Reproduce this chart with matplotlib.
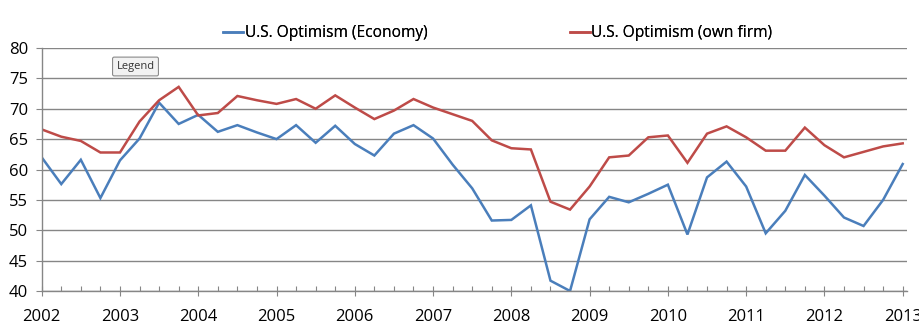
import numpy as np
import matplotlib
matplotlib.use("Agg")
import matplotlib.pyplot as plt
from matplotlib.ticker import MultipleLocator

plt.rcParams['font.family'] = ['Open Sans', 'DejaVu Sans']

years = list(range(2002, 2014))
economy = [62.0, 57.6, 61.6, 55.3, 61.5, 65.1, 71.0, 67.5, 69.0, 66.2, 67.3, 66.1,
           65.0, 67.3, 64.4, 67.2, 64.2, 62.3, 65.9, 67.3, 65.1, 60.8, 56.9, 51.6,
           51.7, 54.1, 41.7, 40.0, 51.8, 55.5, 54.6, 56.0, 57.5, 49.3, 58.7, 61.3,
           57.2, 49.5, 53.2, 59.1, 55.7, 52.1, 50.7, 55.0, 60.9]
own_firm = [66.6, 65.4, 64.7, 62.8, 62.8, 67.9, 71.4, 73.6, 68.9, 69.3, 72.1, 71.4,
            70.8, 71.6, 70.0, 72.2, 70.2, 68.3, 69.7, 71.6, 70.2, 69.1, 68.0, 64.8,
            63.5, 63.3, 54.7, 53.4, 57.2, 62.0, 62.3, 65.3, 65.6, 61.1, 65.9, 67.1,
            65.3, 63.1, 63.1, 66.9, 64.0, 62.0, 62.9, 63.8, 64.3]
labels = ["U.S. Optimism (Economy)", "U.S. Optimism (own firm)"]

x = years[0] + 0.25 * np.arange(len(economy))

W, H = 920, 332
fig = plt.figure(figsize=(W / 100, H / 100), dpi=100)
left, right = 41.7, 907
top, bottom = 48, 291
ax = fig.add_axes([left / W, 1 - bottom / H, (right - left) / W, (bottom - top) / H])

blue = '#4a7ebb'
red = '#be4b48'
grid = '#868686'

l1, = ax.plot(x, economy, color=blue, lw=1.8, label=labels[0], solid_joinstyle='miter')
l2, = ax.plot(x, own_firm, color=red, lw=1.8, label=labels[1], solid_joinstyle='miter')

ax.set_xlim(2002, 2002 + (right - left) / ((902.7 - 41.7) / 11))
ax.set_ylim(40, 80)
ax.yaxis.set_major_locator(MultipleLocator(5))
ax.set_xticks(years)
ax.set_xticklabels([str(y) for y in years])
ax.xaxis.set_minor_locator(MultipleLocator(0.25))

for s in ['top', 'right']:
    ax.spines[s].set_visible(False)
for s in ['left', 'bottom']:
    ax.spines[s].set_color(grid)
    ax.spines[s].set_linewidth(1.0)

ax.yaxis.grid(True, color=grid, lw=1.0)
ax.set_axisbelow(True)

ax.tick_params(axis='y', direction='out', length=4.3, width=0.8, color=grid,
               labelsize=12, pad=5.5, labelcolor='black')
ax.tick_params(axis='x', which='major', direction='inout', length=7.5, width=0.8,
               color=grid, labelsize=12, pad=9, labelcolor='black')
ax.tick_params(axis='x', which='minor', direction='in', length=3.8, width=0.8, color=grid)

for h, lab, xpx in [(l1, labels[0], 223.5), (l2, labels[1], 570)]:
    leg = fig.legend(handles=[h], labels=[lab], loc='center left',
                     bbox_to_anchor=(xpx / W, 1 - 33 / H), frameon=False,
                     fontsize=11.2, handlelength=1.28, handletextpad=0.1,
                     borderpad=0, borderaxespad=0)
    fig.add_artist(leg)

fig.text(135.5 / W, 1 - 66.5 / H, "Legend", fontsize=8, ha='center', va='center', color='#333333',
         bbox=dict(boxstyle='round,pad=0.35,rounding_size=0.15', facecolor='#f2f2f2',
                   edgecolor='#8a8a8a', lw=0.8))

fig.savefig("out.png", dpi=100)
